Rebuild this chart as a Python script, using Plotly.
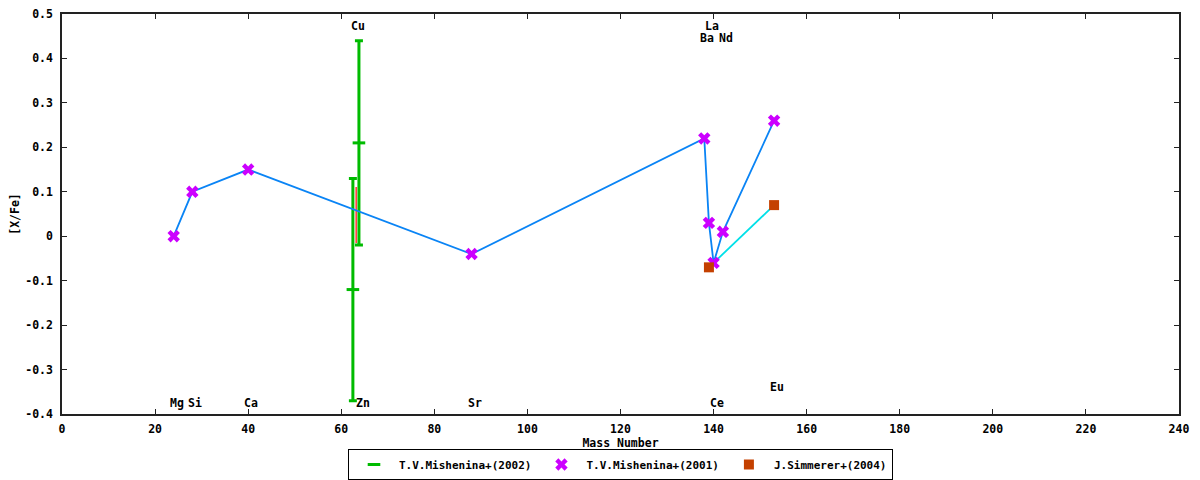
import plotly.graph_objects as go

# T.V.Mishenina+(2002): two wide error bars around Cu/Zn
mish02_mass = [62.5, 63.8]
mish02_val = [-0.12, 0.21]
mish02_err = [0.25, 0.23]

# thin red bar between them
red_mass = [63.2]
red_val = [0.048]
red_err = [0.063]

# T.V.Mishenina+(2001)
mish01_mass = [24, 28, 40, 88, 138, 139, 140, 142, 153]
mish01_val = [0.0, 0.10, 0.15, -0.04, 0.22, 0.03, -0.06, 0.01, 0.26]

# J.Simmerer+(2004)
simm_mass = [139, 153]
simm_val = [-0.07, 0.07]

# element labels
label_names = ["Mg", "Si", "Ca", "Cu", "Zn", "Sr", "Ba", "La", "Ce", "Nd", "Eu"]
label_mass = [24, 28, 40, 63, 64, 88, 138, 139, 140, 142, 153]
label_y = [-0.375, -0.375, -0.375, 0.472, -0.375, -0.375, 0.445, 0.472, -0.375, 0.445, -0.339]

x_ticks = list(range(0, 241, 20))
y_ticks = [-0.4, -0.3, -0.2, -0.1, 0, 0.1, 0.2, 0.3, 0.4, 0.5]
y_ticklabels = ["-0.4", "-0.3", "-0.2", "-0.1", "0", "0.1", "0.2", "0.3", "0.4", "0.5"]

FONT = dict(family="DejaVu Sans Mono", size=11.5, color="black", weight="bold")
LEGEND_FONT = dict(family="DejaVu Sans Mono", size=11, color="black", weight="bold")
GREEN = "#00bb00"
PURPLE = "#cc00ff"
BROWN = "#c44000"
BLUE = "#0a84f5"
CYAN = "#00e0e8"

fig = go.Figure()

fig.add_trace(go.Scatter(
    x=mish02_mass, y=mish02_val, mode="markers", name="T.V.Mishenina+(2002)",
    marker=dict(symbol="line-ew", size=9, color=GREEN, line=dict(color=GREEN, width=3)),
    error_y=dict(type="data", array=mish02_err, color=GREEN, thickness=3, width=4),
))

fig.add_trace(go.Scatter(
    x=red_mass, y=red_val, mode="markers", showlegend=False,
    marker=dict(size=1, color="rgba(0,0,0,0)"),
    error_y=dict(type="data", array=red_err, color="#ff0000", thickness=1.2, width=0),
))

# connecting lines
fig.add_trace(go.Scatter(
    x=mish01_mass, y=mish01_val, mode="lines", showlegend=False,
    line=dict(color=BLUE, width=1.8),
))
fig.add_trace(go.Scatter(
    x=simm_mass, y=simm_val, mode="lines", showlegend=False,
    line=dict(color=CYAN, width=1.8),
))

fig.add_trace(go.Scatter(
    x=mish01_mass, y=mish01_val, mode="markers", name="T.V.Mishenina+(2001)",
    marker=dict(symbol="x", size=11, color=PURPLE, line=dict(width=0)),
))
fig.add_trace(go.Scatter(
    x=simm_mass, y=simm_val, mode="markers", name="J.Simmerer+(2004)",
    marker=dict(symbol="square", size=10, color=BROWN, line=dict(width=0)),
))

for name, m, y in zip(label_names, label_mass, label_y):
    fig.add_annotation(x=m, y=y, text=name, showarrow=False, xanchor="left",
                       xshift=-6, font=FONT)

axis_common = dict(
    showgrid=False, zeroline=False, showline=True, linecolor="#222222", linewidth=1.5,
    mirror="allticks", ticks="inside", ticklen=5, tickcolor="#222222", tickwidth=1,
    tickfont=FONT, automargin=False, ticklabeloverflow="allow",
)

fig.update_xaxes(range=[0, 240], tickvals=x_ticks, ticklabelstandoff=3,
                 title=dict(text="Mass Number", font=FONT, standoff=1), **axis_common)
fig.update_yaxes(range=[-0.4, 0.5], tickvals=y_ticks, ticktext=y_ticklabels,
                 ticklabelstandoff=5,
                 title=dict(text="[X/Fe]", font=FONT, standoff=12), **axis_common)

# page body adds an 8px offset, so margins are trimmed to compensate
fig.update_layout(
    width=1200, height=480,
    margin=dict(l=54, r=29, t=6, b=74),
    paper_bgcolor="white", plot_bgcolor="white",
    font=FONT,
    legend=dict(orientation="h", x=0.5, xanchor="center", y=-0.165, yanchor="bottom",
                bordercolor="black", borderwidth=1, font=LEGEND_FONT,
                itemwidth=40, tracegroupgap=0),
)

fig.write_html("out.html")
